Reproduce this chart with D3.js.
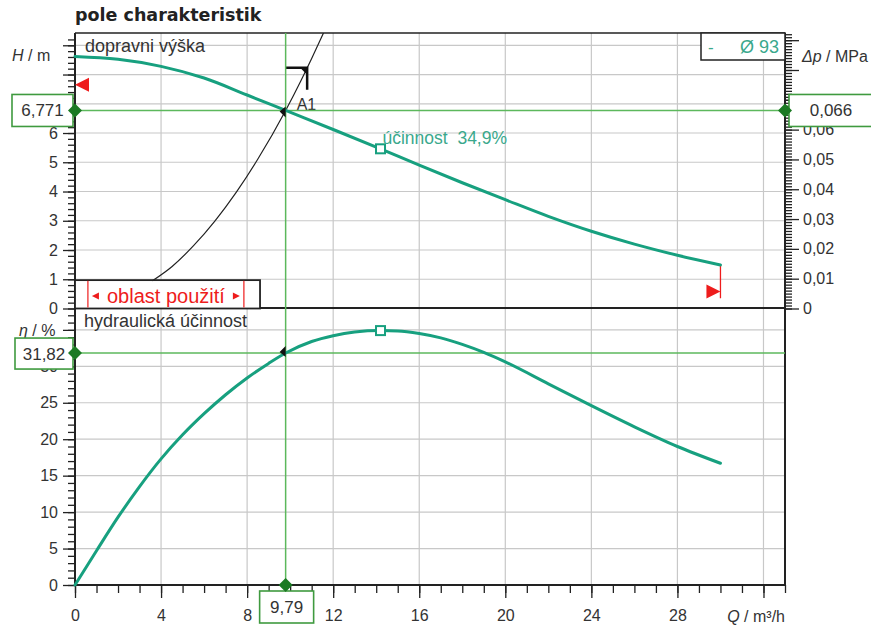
<!DOCTYPE html>
<html>
<head>
<meta charset="utf-8">
<script src="https://cdn.jsdelivr.net/npm/d3@7"></script>
<style>
  body { margin: 0; background: #fff; }
  text { font-family: "Liberation Sans", Arial, sans-serif; }
</style>
</head>
<body>
<div id="chart"></div>
<script>
// pump curve H(Q)
var headQ = [0, 2, 4, 6, 8, 9.79, 12, 14.2, 16, 18, 20, 22, 24, 26, 28, 30];
var headH = [8.62, 8.52, 8.28, 7.88, 7.3, 6.771, 6.12, 5.46, 4.9, 4.3, 3.72, 3.15, 2.64, 2.2, 1.82, 1.49];

// hydraulic efficiency eta(Q)
var effQ = [0, 1, 2, 3, 4, 5, 6, 7, 8, 9, 9.79, 11, 12, 13, 14.2, 15, 16, 17, 18, 19, 20, 22, 24, 26, 28, 30];
var effEta = [0, 4.7, 9.3, 13.5, 17.3, 20.6, 23.5, 26.1, 28.4, 30.4, 31.82, 33.4, 34.2, 34.7, 34.9, 34.85, 34.5, 33.9, 33.0, 31.9, 30.6, 27.6, 24.6, 21.7, 19.0, 16.7];

// system curve A1
var sysQ = [3.6, 4.5, 5.5, 6.5, 7.5, 8.5, 9.79, 10.5, 11.0, 11.6];
var sysH = [0.95, 1.43, 2.14, 2.99, 3.98, 5.11, 6.771, 7.79, 8.55, 9.5];

// ticks
var qMajor = [0, 4, 8, 12, 16, 20, 24, 28, 32];
var qLabels = [0, 4, 8, 12, 16, 20, 24, 28];
var hMajor = [0, 1, 2, 3, 4, 5, 6, 7, 8, 9];
var hLabels = [0, 1, 2, 3, 4, 5, 6];
var pMajor = [0, 0.01, 0.02, 0.03, 0.04, 0.05, 0.06, 0.07, 0.08, 0.09];
var pLabels = [0, 0.01, 0.02, 0.03, 0.04, 0.05, 0.06];
var etaMajor = [0, 5, 10, 15, 20, 25, 30, 35];
var etaLabels = [0, 5, 10, 15, 20, 25, 30];

// duty point / best point
var dutyQ = 9.79, dutyH = 6.771, dutyP = 0.066, dutyEta = 31.82;
var bestQ = 14.2, bestH = 5.46, bestEta = 34.9;
var a1Q = 10.79, a1H = 8.23;
var endQ = 30, endH = 1.49;

var teal = "#17a07f", green = "#5cb85c", dkgreen = "#1b7a23", red = "#ee1c1c";
var comma = function(d){ return String(d).replace(".", ","); };

var svg = d3.select("#chart").append("svg")
  .attr("width", 871).attr("height", 628);

var x = d3.scaleLinear().domain([0, 33]).range([75, 785]);
var yH = d3.scaleLinear().domain([0, 9.42]).range([308.5, 33]);
var yP = d3.scaleLinear().domain([0, 9.42 * 0.00981]).range([308.5, 33]);
var yE = d3.scaleLinear().domain([0, 38]).range([585, 308]);

// title
svg.append("text").attr("x", 75).attr("y", 21)
  .style("font-family", "DejaVu Sans").style("font-weight", "bold").style("font-size", "17.5px")
  .attr("fill", "#222").text("pole charakteristik");

// grid
var grid = svg.append("g").attr("stroke", "#c8c8c8").attr("stroke-width", 1.2);
grid.selectAll(".vg").data(d3.range(4, 33, 4)).enter().append("line")
  .attr("x1", function(d){ return x(d); }).attr("x2", function(d){ return x(d); })
  .attr("y1", 33).attr("y2", 585);
grid.selectAll(".hg").data(d3.range(1, 10)).enter().append("line")
  .attr("x1", 75).attr("x2", 785)
  .attr("y1", function(d){ return yH(d); }).attr("y2", function(d){ return yH(d); });
grid.selectAll(".eg").data(d3.range(5, 36, 5)).enter().append("line")
  .attr("x1", 75).attr("x2", 785)
  .attr("y1", function(d){ return yE(d); }).attr("y2", function(d){ return yE(d); });

// clip paths
var defs = svg.append("defs");
defs.append("clipPath").attr("id", "clipTop").append("rect")
  .attr("x", 75).attr("y", 33).attr("width", 710).attr("height", 275.5);

// axes
function styleAxis(g) {
  g.select(".domain").remove();
  g.selectAll("line").attr("stroke", "#222").attr("stroke-width", 1.3);
  g.selectAll("text").style("font-size", "16px").attr("fill", "#333")
    .style("font-family", "'Liberation Sans', Arial, sans-serif");
}
svg.append("g").attr("transform", "translate(75,0)")
  .call(d3.axisLeft(yH).tickValues(d3.range(0, 47).map(function(i){ return i * 0.2; })).tickSize(7).tickFormat(""))
  .call(styleAxis);
svg.append("g").attr("transform", "translate(75,0)")
  .call(d3.axisLeft(yH).tickValues(hMajor).tickSize(12).tickPadding(5)
    .tickFormat(function(d){ return hLabels.indexOf(d) >= 0 ? d : ""; }))
  .call(styleAxis);
svg.append("g").attr("transform", "translate(75,0)")
  .call(d3.axisLeft(yE).tickValues(d3.range(0, 38)).tickSize(7).tickFormat(""))
  .call(styleAxis);
svg.append("g").attr("transform", "translate(75,0)")
  .call(d3.axisLeft(yE).tickValues(etaMajor).tickSize(12).tickPadding(5)
    .tickFormat(function(d){ return etaLabels.indexOf(d) >= 0 ? d : ""; }))
  .call(styleAxis);
svg.append("g").attr("transform", "translate(785,0)")
  .call(d3.axisRight(yP).tickValues(d3.range(0, 93).map(function(i){ return i * 0.001; })).tickSize(7).tickFormat(""))
  .call(styleAxis);
svg.append("g").attr("transform", "translate(785,0)")
  .call(d3.axisRight(yP).tickValues(pMajor).tickSize(14).tickPadding(4)
    .tickFormat(function(d){ return pLabels.indexOf(d) >= 0 ? comma(d) : ""; }))
  .call(styleAxis);
svg.append("g").attr("transform", "translate(0,585)")
  .call(d3.axisBottom(x).tickValues(d3.range(0, 34)).tickSize(8).tickFormat(""))
  .call(styleAxis);
svg.append("g").attr("transform", "translate(0,585)")
  .call(d3.axisBottom(x).tickValues(qMajor).tickSize(13).tickPadding(12)
    .tickFormat(function(d){ return qLabels.indexOf(d) >= 0 ? d : ""; }))
  .call(styleAxis);

// frame
var frame = svg.append("g").attr("stroke", "#222");
frame.append("line").attr("x1", 75).attr("x2", 785).attr("y1", 33).attr("y2", 33).attr("stroke-width", 1.5);
frame.append("line").attr("x1", 75).attr("x2", 785).attr("y1", 308).attr("y2", 308).attr("stroke-width", 2);
frame.append("line").attr("x1", 75).attr("x2", 785).attr("y1", 585).attr("y2", 585).attr("stroke-width", 2);
frame.append("line").attr("x1", 75).attr("x2", 75).attr("y1", 33).attr("y2", 585).attr("stroke-width", 2);
frame.append("line").attr("x1", 785).attr("x2", 785).attr("y1", 33).attr("y2", 585).attr("stroke-width", 2);

// axis titles
var at = svg.append("g").attr("fill", "#333").style("font-size", "16px");
var th = at.append("text").attr("x", 12).attr("y", 61);
th.append("tspan").style("font-style", "italic").text("H");
th.append("tspan").text(" / m");
var tp = at.append("text").attr("x", 802).attr("y", 62);
tp.append("tspan").style("font-style", "italic").text("Δp");
tp.append("tspan").text(" / MPa");
var te = at.append("text").attr("x", 19).attr("y", 336);
te.append("tspan").style("font-style", "italic").text("η");
te.append("tspan").text(" / %");
var tq = at.append("text").attr("x", 785).attr("y", 622).attr("text-anchor", "end");
tq.append("tspan").style("font-style", "italic").text("Q");
tq.append("tspan").text(" / m³/h");

svg.append("text").attr("x", 85).attr("y", 52).attr("fill", "#333").style("font-size", "18px").text("dopravni výška");
svg.append("text").attr("x", 84).attr("y", 327).attr("fill", "#333").style("font-size", "18px").text("hydraulická účinnost");

// "oblast použití" box
var ob = svg.append("g");
ob.append("rect").attr("x", 75).attr("y", yH(0.97)).attr("width", x(8.6) - 75).attr("height", yH(0) - yH(0.97))
  .attr("fill", "#fff").attr("stroke", "#222").attr("stroke-width", 1.8);
ob.selectAll(".rl").data([0.6, 7.85]).enter().append("line")
  .attr("x1", function(d){ return x(d); }).attr("x2", function(d){ return x(d); })
  .attr("y1", yH(0.95)).attr("y2", yH(0.03)).attr("stroke", red).attr("stroke-width", 1.2);
ob.append("path").attr("fill", red)
  .attr("d", "M" + (x(0.6) + 4) + "," + 296 + "l7,-3.5v7z");
ob.append("path").attr("fill", red)
  .attr("d", "M" + (x(7.85) - 4) + "," + 296 + "l-7,-3.5v7z");
ob.append("text").attr("x", (x(0.6) + x(7.85)) / 2).attr("y", 303).attr("text-anchor", "middle")
  .attr("fill", red).style("font-size", "20px").text("oblast použití");

// red range markers
svg.append("path").attr("fill", red)
  .attr("d", "M" + x(0) + "," + yH(7.65) + "l14,-7v14z");
svg.append("line").attr("x1", x(endQ)).attr("x2", x(endQ)).attr("y1", yH(endH)).attr("y2", yH(0.35))
  .attr("stroke", red).attr("stroke-width", 1.3);
svg.append("path").attr("fill", red)
  .attr("d", "M" + x(endQ) + "," + yH(0.58) + "l-14,-7v14z");

// system curve
var sysLine = d3.line().x(function(d){ return x(d[0]); }).y(function(d){ return yH(d[1]); }).curve(d3.curveMonotoneX);
svg.append("path").datum(d3.zip(sysQ, sysH)).attr("clip-path", "url(#clipTop)")
  .attr("fill", "none").attr("stroke", "#222").attr("stroke-width", 1.2).attr("d", sysLine);

// A1 bracket
var a1 = svg.append("g").attr("stroke", "#111").attr("stroke-width", 2.5).attr("fill", "none");
a1.append("path").attr("d", "M" + x(dutyQ) + "," + yH(a1H) + "H" + x(a1Q) + "V" + (yH(a1H) + 22));
svg.append("path").attr("fill", "#111")
  .attr("d", "M" + (x(a1Q) - 7) + "," + yH(a1H) + "L" + x(a1Q) + "," + yH(a1H) + "L" + x(a1Q) + "," + (yH(a1H) + 7) + "z");
svg.append("text").attr("x", x(dutyQ) + 11).attr("y", yH(a1H) + 42).attr("fill", "#333")
  .style("font-size", "16px").text("A1");

// green crosshair
var gc = svg.append("g").attr("stroke", green).attr("stroke-width", 1.5);
gc.append("line").attr("x1", x(dutyQ)).attr("x2", x(dutyQ)).attr("y1", 33).attr("y2", 585);
gc.append("line").attr("x1", 75).attr("x2", 785).attr("y1", yH(dutyH)).attr("y2", yH(dutyH));
gc.append("line").attr("x1", 75).attr("x2", 785).attr("y1", yE(dutyEta)).attr("y2", yE(dutyEta));

// curves
var hLine = d3.line().x(function(d){ return x(d[0]); }).y(function(d){ return yH(d[1]); }).curve(d3.curveMonotoneX);
var eLine = d3.line().x(function(d){ return x(d[0]); }).y(function(d){ return yE(d[1]); }).curve(d3.curveMonotoneX);
svg.append("path").datum(d3.zip(headQ, headH)).attr("fill", "none").attr("stroke", teal)
  .attr("stroke-width", 3).attr("stroke-linecap", "round").attr("d", hLine);
svg.append("path").datum(d3.zip(effQ, effEta)).attr("fill", "none").attr("stroke", teal)
  .attr("stroke-width", 3).attr("stroke-linecap", "round").attr("d", eLine);

// intersection marks
svg.append("path").attr("fill", "#111")
  .attr("d", "M" + (x(dutyQ) - 6) + "," + (yH(dutyH) + 1) + "l6,-5v11z");
svg.append("path").attr("fill", "#111")
  .attr("d", "M" + (x(dutyQ) - 6) + "," + (yE(dutyEta) - 1) + "l6,5v-11z");

// best efficiency markers
svg.selectAll(".bm").data([yH(bestH), yE(bestEta)]).enter().append("rect")
  .attr("x", x(bestQ) - 4.5).attr("y", function(d){ return d - 4.5; })
  .attr("width", 9).attr("height", 9).attr("fill", "#fff").attr("stroke", teal).attr("stroke-width", 2);
svg.append("text").attr("x", x(bestQ) + 2).attr("y", yH(bestH) - 5).attr("fill", "#3aa88c")
  .style("font-size", "17.5px").attr("xml:space", "preserve").text("účinnost  34,9%");

// diameter box
svg.append("rect").attr("x", 701).attr("y", 33).attr("width", 84).attr("height", 27)
  .attr("fill", "#fff").attr("stroke", "#222").attr("stroke-width", 1.5);
svg.append("text").attr("x", 708).attr("y", 53).attr("fill", "#3aa88c").style("font-size", "17px").text("-");
svg.append("text").attr("x", 779).attr("y", 53).attr("text-anchor", "end").attr("fill", "#3aa88c")
  .style("font-size", "18px").text("Ø 93");

// value boxes
var boxes = [
  {x: 12, y: yH(dutyH) - 16, w: 61, h: 32, t: comma(dutyH)},
  {x: 789, y: yH(dutyH) - 16, w: 84, h: 32, t: comma(dutyP)},
  {x: 15, y: yE(dutyEta) - 15, w: 58, h: 31, t: comma(dutyEta)},
  {x: x(dutyQ) - 26, y: 591, w: 54, h: 32, t: comma(dutyQ)}
];
var bx = svg.selectAll(".vb").data(boxes).enter().append("g");
bx.append("rect").attr("x", function(d){ return d.x; }).attr("y", function(d){ return d.y; })
  .attr("width", function(d){ return d.w; }).attr("height", function(d){ return d.h; })
  .attr("fill", "#fff").attr("stroke", "#3f9a3f").attr("stroke-width", 1.6);
bx.append("text").attr("x", function(d){ return d.x + d.w / 2; }).attr("y", function(d){ return d.y + d.h / 2 + 6; })
  .attr("text-anchor", "middle").attr("fill", "#333").style("font-size", "17px")
  .text(function(d){ return d.t; });

// diamonds
var dia = [[75, yH(dutyH)], [785, yH(dutyH)], [75, yE(dutyEta)], [x(dutyQ), 585]];
svg.selectAll(".dm").data(dia).enter().append("path")
  .attr("d", function(d){ return "M" + d[0] + "," + (d[1] - 7) + "l7,7l-7,7l-7,-7z"; })
  .attr("fill", dkgreen);
</script>
</body>
</html>
